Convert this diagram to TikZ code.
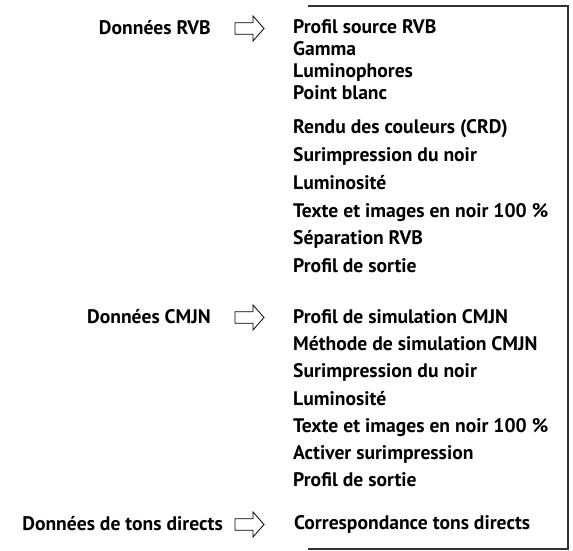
\documentclass[tikz,border=0pt]{standalone}
\usepackage{fontspec}
\setmainfont{PT Sans}
\begin{document}
\begin{tikzpicture}[x=1pt, y=-1pt]
		\tikzset{item/.style={anchor=base west, inner sep=0, font=\bfseries\fontsize{19.6}{22}\selectfont}}
		\tikzset{source/.style={anchor=base east, inner sep=0, font=\bfseries\fontsize{19.6}{22}\selectfont}}
		\tikzset{fleche/.style={draw=black, line width=0.8pt, fill=white, line join=miter}}
		\tikzset{pics/bloc/.style={code={\draw[fleche] (0,-5.8) -- (18,-5.8) -- (18,-12.5) -- (29,0) -- (18,12.5) -- (18,5.8) -- (0,5.8) -- cycle;}}}
		\useasboundingbox (0,0) rectangle (573,551);
		% cadre
		\draw[black!80, line width=1.2pt] (308,6) -- (568,6) -- (568,549) -- (308,549);
		% sources
		\node[source] at (211, 34.3) (rvb) {Données RVB};
		\node[source] at (211, 323.3) (cmjn) {Données CMJN};
		\node[source] at (223, 530.3) (tons) {Données de tons directs};
		\pic at (235, 28.5) {bloc};
		\pic at (235, 317.5) {bloc};
		\pic at (235, 524.5) {bloc};
		% RVB
		\node[item] at (293, 33.3) (r1) {Profil source RVB};
		\node[item] at (293, 55.3) (r2) {Gamma};
		\node[item] at (293, 77.3) (r3) {Luminophores};
		\node[item] at (293, 99.3) (r4) {Point blanc};
		\node[item] at (293, 133.3) (r5) {Rendu des couleurs (CRD)};
		\node[item] at (293, 161.3) (r6) {Surimpression du noir};
		\node[item] at (293, 189.3) (r7) {Luminosité};
		\node[item] at (293, 217.3) (r8) {Texte et images en noir 100 \%};
		\node[item] at (293, 244.3) (r9) {Séparation RVB};
		\node[item] at (293, 272.3) (r10) {Profil de sortie};
		% CMJN
		\node[item] at (293, 323.3) (c1) {Profil de simulation CMJN};
		\node[item] at (293, 350.3) (c2) {Méthode de simulation CMJN};
		\node[item] at (293, 377.3) (c3) {Surimpression du noir};
		\node[item] at (293, 405.3) (c4) {Luminosité};
		\node[item] at (293, 432.3) (c5) {Texte et images en noir 100 \%};
		\node[item] at (293, 459.3) (c6) {Activer surimpression};
		\node[item] at (293, 486.3) (c7) {Profil de sortie};
		% tons directs
		\node[item] at (294, 529.3) (t1) {Correspondance tons directs};
	\end{tikzpicture}
\end{document}
